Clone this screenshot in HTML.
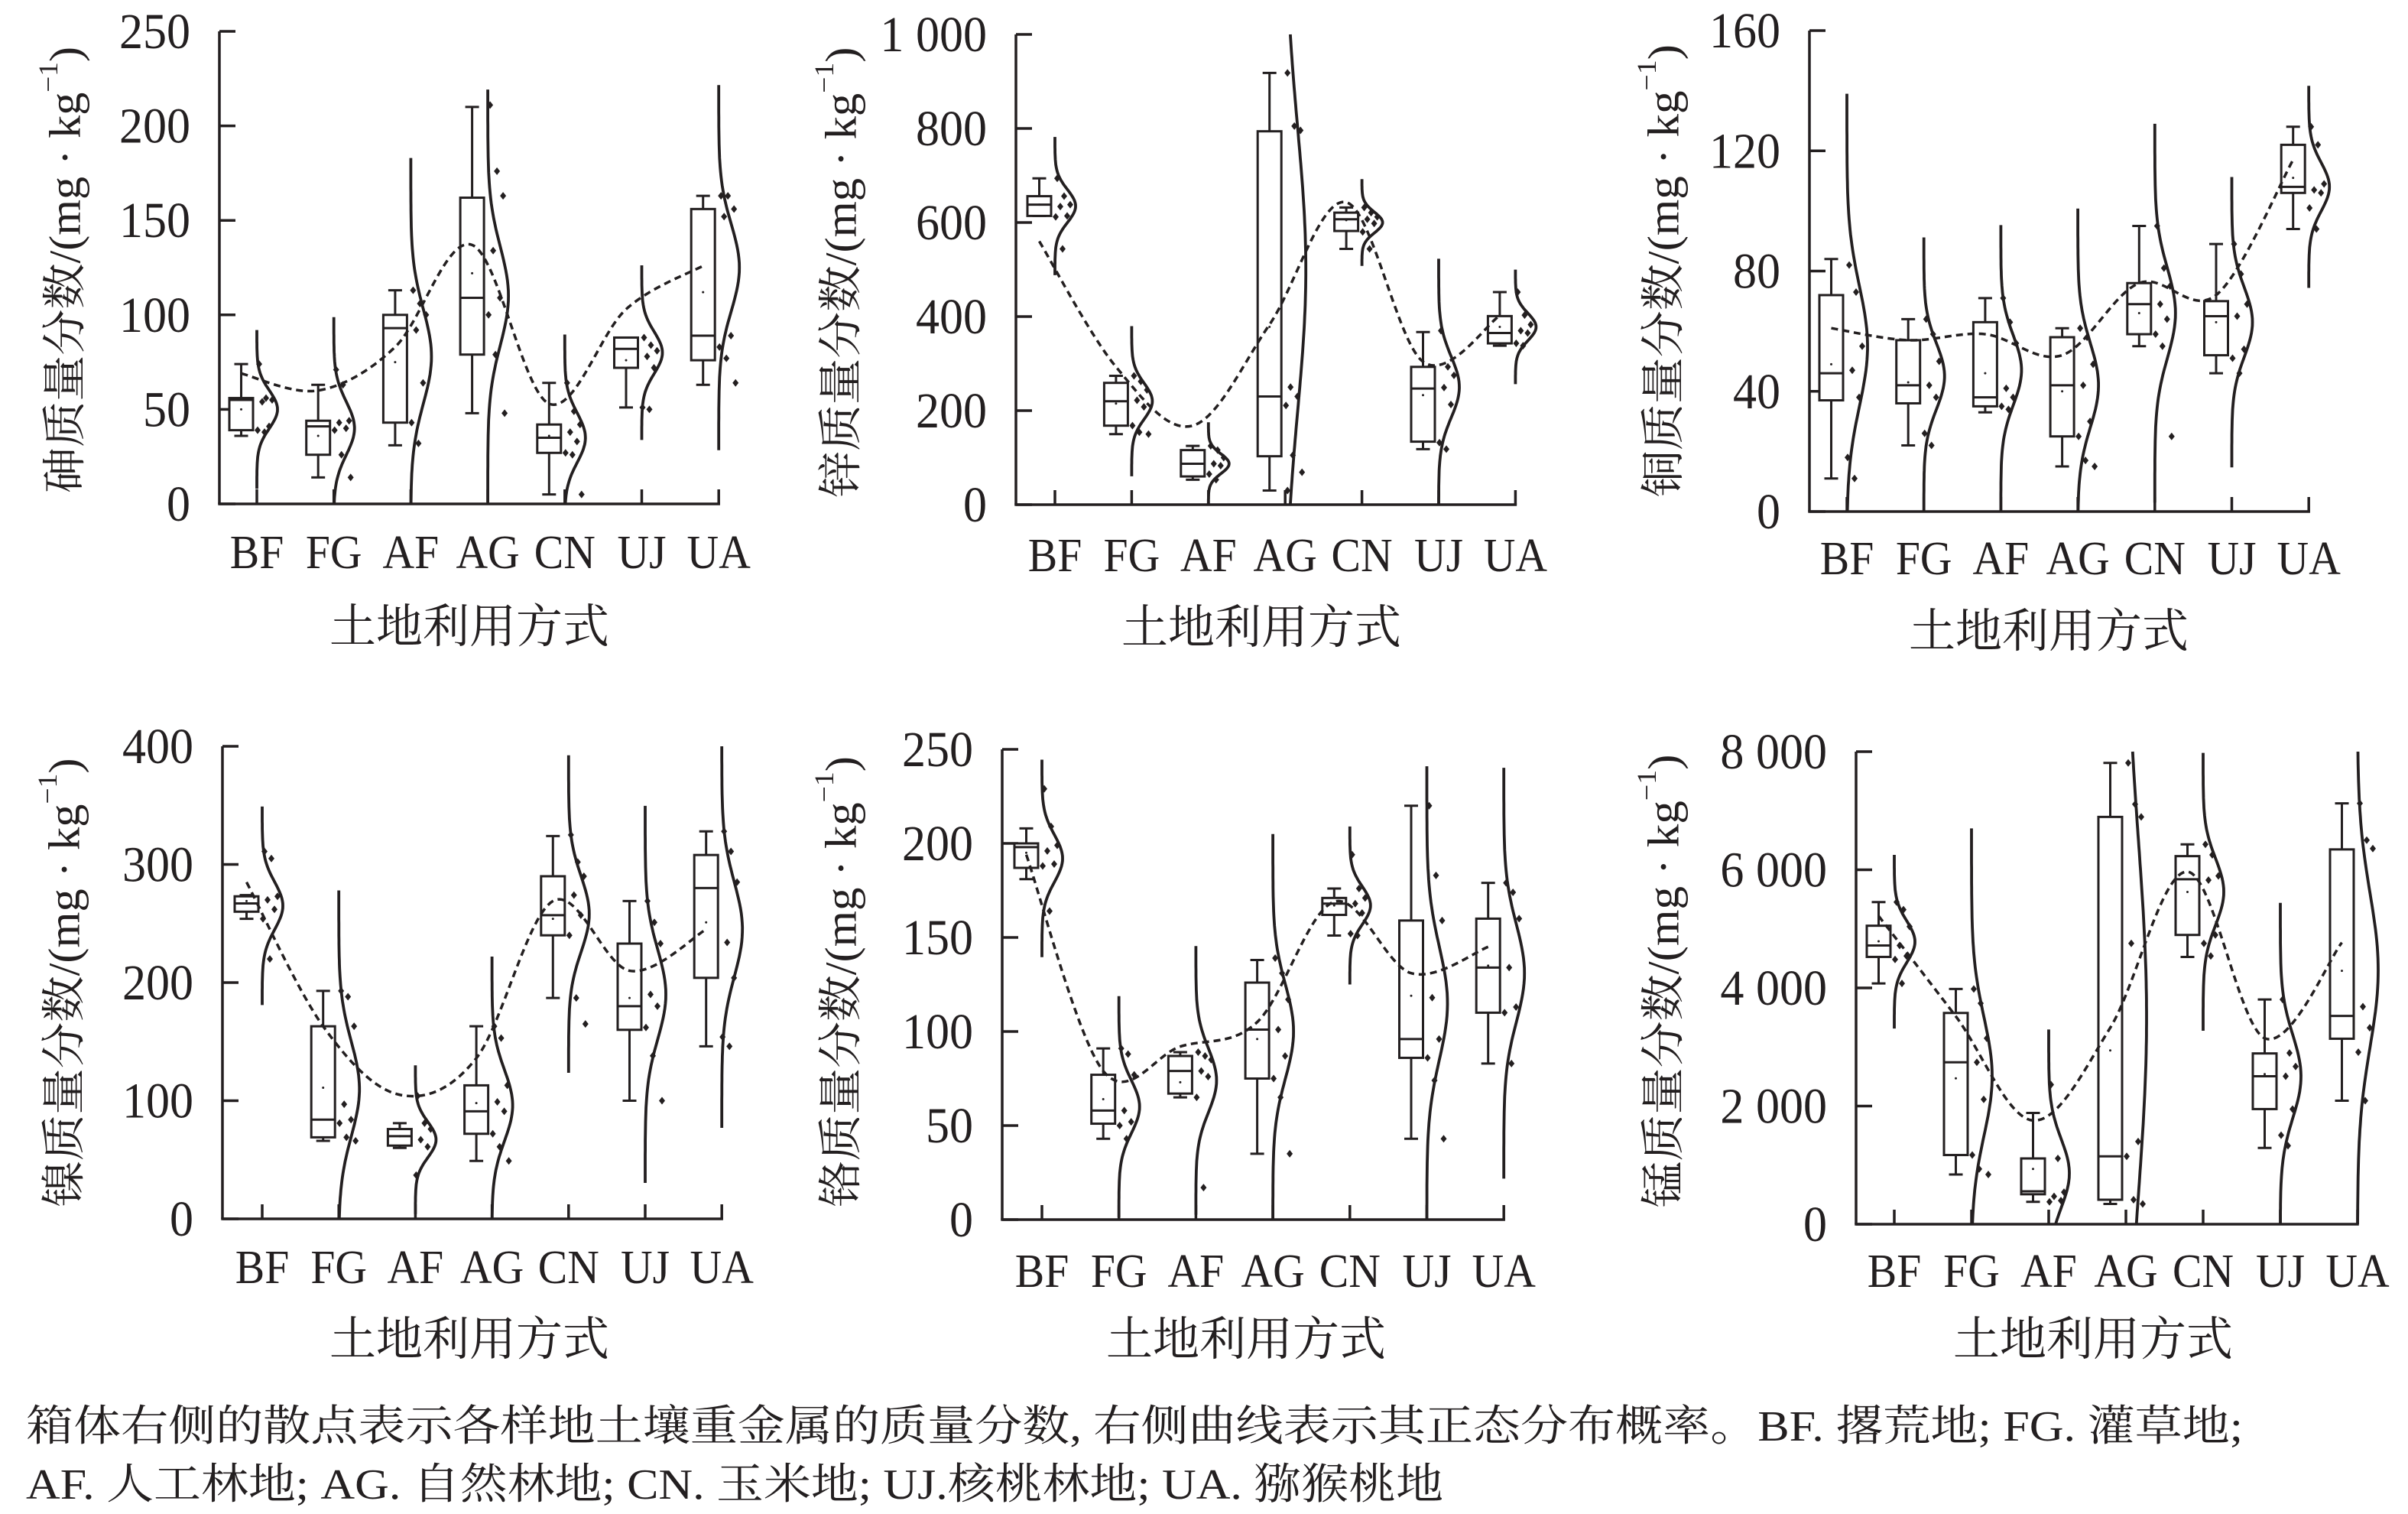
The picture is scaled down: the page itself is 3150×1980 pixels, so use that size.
<!DOCTYPE html>
<html><head><meta charset="utf-8">
<style>
html,body{margin:0;padding:0;background:#fff;}
svg{display:block;}
text{fill:#231f20;}
</style></head>
<body>
<svg id="fig" width="3150" height="1980" viewBox="0 0 3150 1980" xmlns="http://www.w3.org/2000/svg">
<rect width="3150" height="1980" fill="#fff"/>
<g id="charts"></g>
<text x="34" y="1884" font-family="'Liberation Serif','Noto Serif CJK SC',serif" font-size="56" textLength="2900" lengthAdjust="spacingAndGlyphs">箱体右侧的散点表示各样地土壤重金属的质量分数, 右侧曲线表示其正态分布概率。BF. 撂荒地; FG. 灌草地;</text>
<text x="34" y="1960" font-family="'Liberation Serif','Noto Serif CJK SC',serif" font-size="56" textLength="1854" lengthAdjust="spacingAndGlyphs">AF. 人工林地; AG. 自然林地; CN. 玉米地; UJ.核桃林地; UA. 猕猴桃地</text>
</svg>
<script>
const categories = ["BF","FG","AF","AG","CN","UJ","UA"];

// ---- As ----
const as_ticks = [0,50,100,150,200,250];
const as_tickLabels = ["0","50","100","150","200","250"];
const as_low = [36,14,31,48,5,51,63];
const as_q1 = [39,26,43,79,27,72,76];
const as_med = [55,41,93,109,35,82,89];
const as_q3 = [56,44,100,162,42,88,156];
const as_high = [74,63,113,210,64,88,163];
const as_mean = [50,36,75,122,36,76,112];
const as_pts = [[74,56,55,54,41,39,38],[71,63,44,43,40,39,26,14],[113,106,100,92,64,43,32],[211,176,163,134,109,100,79,48],[64,49,42,38,33,27,26,5],[88,84,81,78,72,51,50],[163,163,156,152,89,83,77,64]];
const as_nm = [50,40,78,110,35,80,125];
const as_sd = [10,14,25,26,13,11,23];
const as_trend = [69,60,83,137,53,103,126];

// ---- Zn ----
const zn_ticks = [0,200,400,600,800,1000];
const zn_tickLabels = ["0","200","400","600","800","1 000"];
const zn_low = [614,150,53,30,544,118,338];
const zn_q1 = [614,168,60,103,582,134,343];
const zn_med = [638,220,87,230,607,247,365];
const zn_q3 = [656,259,116,794,621,293,401];
const zn_high = [694,274,125,918,632,367,452];
const zn_mean = [638,215,87,378,605,233,378];
const zn_pts = [[694,656,638,634,614,612,544],[274,262,244,222,208,168,154,150],[125,116,100,87,83,65,53],[918,805,796,250,230,211,105,69,30],[632,621,612,607,598,580,544],[370,293,275,249,213,132,118],[452,403,383,370,365,343,338]];
const zn_nm = [635,220,87,500,600,250,378];
const zn_sd = [35,38,21,300,22,65,29];
const zn_trend = [560,293,168,383,643,304,402];

// ---- Cu ----
const cu_ticks = [0,40,80,120,160];
const cu_tickLabels = ["0","40","80","120","160"];
const cu_low = [11,22,33,15,55,46,94];
const cu_q1 = [37,36,35,25,59,52,106];
const cu_med = [46,42,38,42,69,65,108];
const cu_q3 = [72,57,63,58,76,70,122];
const cu_high = [84,64,71,61,95,89,128];
const cu_mean = [49,43,46,40,66,63,111];
const cu_pts = [[82,73,55,47,38,18,11],[64,59,50,42,38,26,22],[71,63,56,41,38,35,34],[61,58,49,42,30,25,17,15],[95,81,75,69,64,59,55,25],[89,79,69,65,54,51,46],[128,122,109,107,106,101,94]];
const cu_nm = [55,45,47,42,66,63,108];
const cu_sd = [20,11,11.5,14,15,11.5,8];
const cu_trend = [61,57,59,52,76,72,117];

// ---- Ni ----
const ni_ticks = [0,100,200,300,400];
const ni_tickLabels = ["0","100","200","300","400"];
const ni_low = [254,66,60,49,187,100,146];
const ni_q1 = [260,69,62,72,240,160,204];
const ni_med = [267,84,70,91,257,180,280];
const ni_q3 = [273,163,76,113,290,233,308];
const ni_high = [274,193,81,163,324,269,328];
const ni_mean = [269,111,70,98,254,187,251];
const ni_pts = [[311,305,273,270,262,254,220],[193,188,163,97,84,81,69,66],[104,81,76,67,61,37],[163,153,113,99,91,72,61,49],[325,302,290,274,257,240,187,165],[269,251,233,190,180,162,138,100],[328,311,285,234,204,154,146]];
const ni_nm = [265,110,67,96,258,190,245];
const ni_sd = [20,40,15,30,32,38,40];
const ni_trend = [285,163,105,136,269,210,245];

// ---- Cr ----
const cr_ticks = [0,50,100,150,200,250];
const cr_tickLabels = ["0","50","100","150","200","250"];
const cr_low = [181,43,65,35,151,43,83];
const cr_q1 = [187,51,67,75,162,86,110];
const cr_med = [198,58,79,101,168,96,134];
const cr_q3 = [200,77,87,126,171,159,160];
const cr_high = [208,91,89,138,176,220,179];
const cr_mean = [195,64,73,96,167,119,135];
const cr_pts = [[229,209,199,196,189,188,164],[91,88,77,58,52,50,43],[89,87,85,79,76,65,17],[139,131,117,101,87,75,65,35],[194,176,171,168,163,152,151],[220,183,159,118,96,86,74,43],[179,174,160,134,113,110,83]];
const cr_nm = [192,60,74,100,167,115,131];
const cr_sd = [12.5,14,17,25,10,30,26];
const cr_trend = [194,79,92,105,169,131,145];

// ---- Mn ----
const mn_ticks = [0,2000,4000,6000,8000];
const mn_tickLabels = ["0","2 000","4 000","6 000","8 000"];
const mn_low = [4076,842,378,343,4525,1292,2091];
const mn_q1 = [4525,1171,507,414,4897,1949,3140];
const mn_med = [4718,2741,557,1149,5839,2505,3526];
const mn_q3 = [5053,3576,1113,6895,6231,2891,6345];
const mn_high = [5453,3983,1884,7809,6431,3805,7124];
const mn_mean = [4789,2470,935,2941,5625,2541,4290];
const mn_pts = [[5453,5325,5039,4718,4540,4483,4076],[3983,3740,3148,2741,2113,1171,935,842],[2363,1113,542,471,400,378],[7809,7110,6895,4754,1399,1149,414,343],[6431,6252,5896,5825,4897,4754,4540],[3805,2898,2670,2505,1949,1506,1328],[7124,6502,6360,3683,3326,2912,2091]];
const mn_nm = [4782,2500,860,3500,5627,2500,4300];
const mn_sd = [350,1000,580,3000,560,700,1300];
const mn_trend = [5218,3518,1756,3326,5967,3148,4768];

const NS = "http://www.w3.org/2000/svg";
const root = document.getElementById("charts");
const SERIF = "'Liberation Serif','Noto Serif CJK SC',serif";
function mk(tag, attrs, parent){
  const e = document.createElementNS(NS, tag);
  for (const k in attrs) e.setAttribute(k, attrs[k]);
  (parent||root).appendChild(e);
  return e;
}
const jitter = [3,12,20,7,16,1,10,22];

function drawPanel(p){
  const g = mk("g", {});
  
  
  const maxV = p.ticks[p.ticks.length-1];
  const Y = v => p.ybot - (v / maxV) * (p.ybot - p.ytop);
  const X = i => p.x0 + i * p.step;
  const stroke = "#231f20";
  const xEnd = X(categories.length-1);
  const ya = mk("line", {x1:p.ax, y1:p.ytop, x2:p.ax, y2:p.ybot, stroke, "stroke-width":3.5}, g);
  
  
  const xa = mk("line", {x1:p.ax-1.75, y1:p.ybot, x2:xEnd+1.75, y2:p.ybot, stroke, "stroke-width":3.5}, g);
  
  
  p.ticks.forEach((t, k) => {
    const y = Y(t);
    const tk = mk("line", {x1:p.ax, y1:y, x2:p.ax+21, y2:y, stroke, "stroke-width":3.5}, g);
    
    
    const tl = mk("text", {transform:`translate(${p.ax-38},${y+22}) scale(0.94,1)`, "text-anchor":"end", "font-family":SERIF, "font-size":66}, g);
    tl.textContent = p.tickLabels[k];
    
    
  });
  const yt = mk("text", {x:0, y:0, transform:`translate(${p.titleX},${p.titleYc}) rotate(-90)`, "text-anchor":"middle", "dominant-baseline":"central", "font-family":SERIF, "font-size":58, textLength:p.titleLen, lengthAdjust:"spacingAndGlyphs"}, g);
  
  
  yt.appendChild(document.createTextNode(p.title + "/(mg · kg"));
  const sup = mk("tspan", {dy:-22, "font-size":36}, yt);
  sup.textContent = "−1";
  const cl = mk("tspan", {dy:22}, yt);
  cl.textContent = ")";
  const xt = mk("text", {x:p.xtitleX, y:p.xtitleY, "text-anchor":"middle", "font-family":SERIF, "font-size":61}, g);
  xt.textContent = "土地利用方式";
  
  

  categories.forEach((c, i) => {
    const b = X(i);
    const xtk = mk("line", {x1:b, y1:p.ybot, x2:b, y2:p.ybot-19, stroke, "stroke-width":3.5}, g);
    
    
    const lab = mk("text", {transform:`translate(${b},${p.catY}) scale(0.93,1)`, "text-anchor":"middle", "font-family":SERIF, "font-size":62}, g);
    lab.textContent = c;
    
    
    const bx = mk("g", {}, g);
    
    
    const l = b - 36, r = b - 5, cx = b - 20.5;
    mk("line", {x1:cx, y1:Y(p.high[i]), x2:cx, y2:Y(p.q3[i]), stroke, "stroke-width":3}, bx);
    mk("line", {x1:cx, y1:Y(p.q1[i]), x2:cx, y2:Y(p.low[i]), stroke, "stroke-width":3}, bx);
    mk("line", {x1:cx-9, y1:Y(p.high[i]), x2:cx+9, y2:Y(p.high[i]), stroke, "stroke-width":3}, bx);
    mk("line", {x1:cx-9, y1:Y(p.low[i]), x2:cx+9, y2:Y(p.low[i]), stroke, "stroke-width":3}, bx);
    mk("rect", {x:l, y:Y(p.q3[i]), width:r-l, height:Math.max(1, Y(p.q1[i]) - Y(p.q3[i])), fill:"#fff", stroke, "stroke-width":3}, bx);
    mk("line", {x1:l, y1:Y(p.med[i]), x2:r, y2:Y(p.med[i]), stroke, "stroke-width":3}, bx);
    mk("circle", {cx:cx, cy:Y(p.mean[i]), r:1.5, fill:stroke}, bx);
    p.pts[i].forEach((v, j) => {
      const px = b + jitter[j % jitter.length], py = Y(v);
      const d = mk("polygon", {points:`${px},${py-5} ${px+4},${py} ${px},${py+5} ${px-4},${py}`, fill:stroke}, g);
      
      
    });
    const lo = Math.max(0, p.nm[i] - 4.2*p.sd[i]);
    const hi = Math.min(maxV, p.nm[i] + 4.2*p.sd[i]);
    let dstr = "";
    const N = 80;
    for (let s = 0; s <= N; s++){
      const v = lo + (hi - lo) * s / N;
      const z = (v - p.nm[i]) / p.sd[i];
      const x = b + 27 * Math.exp(-0.5*z*z);
      dstr += (s ? "L" : "M") + x.toFixed(1) + "," + Y(v).toFixed(1);
    }
    const nc = mk("path", {d:dstr, fill:"none", stroke, "stroke-width":3.8}, g);
    
    
  });
  const P = p.trend.map((v, i) => [X(i) - 20.5, Y(v)]);
  let d = `M${P[0][0]},${P[0][1]}`;
  for (let i = 0; i < P.length-1; i++){
    const p0 = P[Math.max(0,i-1)], p1 = P[i], p2 = P[i+1], p3 = P[Math.min(P.length-1,i+2)];
    const c1 = [p1[0] + (p2[0]-p0[0])/6, p1[1] + (p2[1]-p0[1])/6];
    const c2 = [p2[0] - (p3[0]-p1[0])/6, p2[1] - (p3[1]-p1[1])/6];
    d += ` C${c1[0]},${c1[1]} ${c2[0]},${c2[1]} ${p2[0]},${p2[1]}`;
  }
  const tr = mk("path", {d, fill:"none", stroke, "stroke-width":3.5, "stroke-dasharray":"9 6"}, g);
  
  
}

drawPanel({id:"as", title:"砷质量分数", ax:287, x0:336, step:100.7, ytop:41, ybot:659, ticks:as_ticks, tickLabels:as_tickLabels,
  low:as_low,q1:as_q1,med:as_med,q3:as_q3,high:as_high,mean:as_mean,pts:as_pts,nm:as_nm,sd:as_sd,trend:as_trend,
  titleX:85, titleYc:353, titleLen:584, catY:743, xtitleX:614, xtitleY:840});
drawPanel({id:"zn", title:"锌质量分数", ax:1329, x0:1380, step:100.4, ytop:45, ybot:660, ticks:zn_ticks, tickLabels:zn_tickLabels,
  low:zn_low,q1:zn_q1,med:zn_med,q3:zn_q3,high:zn_high,mean:zn_mean,pts:zn_pts,nm:zn_nm,sd:zn_sd,trend:zn_trend,
  titleX:1100, titleYc:356, titleLen:589, catY:747, xtitleX:1650, xtitleY:841});
drawPanel({id:"cu", title:"铜质量分数", ax:2367, x0:2416, step:100.7, ytop:40, ybot:669, ticks:cu_ticks, tickLabels:cu_tickLabels,
  low:cu_low,q1:cu_q1,med:cu_med,q3:cu_q3,high:cu_high,mean:cu_mean,pts:cu_pts,nm:cu_nm,sd:cu_sd,trend:cu_trend,
  titleX:2176, titleYc:354, titleLen:592, catY:751, xtitleX:2680, xtitleY:846});
drawPanel({id:"ni", title:"镍质量分数", ax:291, x0:343, step:100.2, ytop:976, ybot:1594, ticks:ni_ticks, tickLabels:ni_tickLabels,
  low:ni_low,q1:ni_q1,med:ni_med,q3:ni_q3,high:ni_high,mean:ni_mean,pts:ni_pts,nm:ni_nm,sd:ni_sd,trend:ni_trend,
  titleX:84, titleYc:1285, titleLen:587, catY:1678, xtitleX:614, xtitleY:1772});
drawPanel({id:"cr", title:"铬质量分数", ax:1311, x0:1363, step:100.7, ytop:980, ybot:1595, ticks:cr_ticks, tickLabels:cr_tickLabels,
  low:cr_low,q1:cr_q1,med:cr_med,q3:cr_q3,high:cr_high,mean:cr_mean,pts:cr_pts,nm:cr_nm,sd:cr_sd,trend:cr_trend,
  titleX:1100, titleYc:1284, titleLen:590, catY:1683, xtitleX:1630, xtitleY:1772});
drawPanel({id:"mn", title:"锰质量分数", ax:2428, x0:2478, step:101, ytop:983, ybot:1601, ticks:mn_ticks, tickLabels:mn_tickLabels,
  low:mn_low,q1:mn_q1,med:mn_med,q3:mn_q3,high:mn_high,mean:mn_mean,pts:mn_pts,nm:mn_nm,sd:mn_sd,trend:mn_trend,
  titleX:2176, titleYc:1283, titleLen:593, catY:1683, xtitleX:2738, xtitleY:1772});
</script>
</body></html>
